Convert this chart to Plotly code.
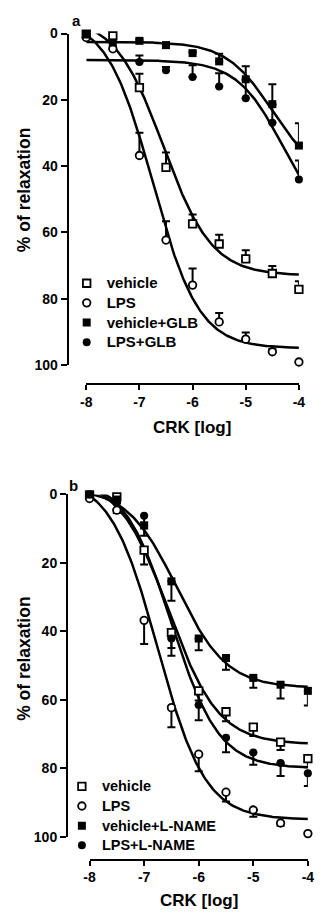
import numpy as np
import plotly.graph_objects as go

W, H = 329, 923
FONT = "Liberation Sans"

# ---------------- data ----------------
conc = [-8, -7.5, -7, -6.5, -6, -5.5, -5, -4.5, -4]
x_tickvals = [-8, -7, -6, -5, -4]
x_ticktext = ["-8", "-7", "-6", "-5", "-4"]
y_tickvals = [0, 20, 40, 60, 80, 100]
y_ticktext = ["0", "20", "40", "60", "80", "100"]

vehicle = [0.2, 0.7, 16.3, 40.4, 57.4, 63.5, 68.0, 72.4, 77.2]
vehicle_sem = [0, 0, 4.2, 4.5, 2.8, 2.8, 2.6, 2.3, 2.5]
lps = [1.2, 4.6, 36.8, 62.3, 75.9, 87.0, 92.2, 96.0, 99.1]
lps_sem = [0, 0.8, 6.9, 5.7, 5.0, 2.7, 2.0, 0.8, 0]

veh_glb = [0.3, 2.7, 2.2, 3.5, 5.9, 8.4, 13.8, 21.3, 33.8]
veh_glb_sem = [0, 0, 0.5, 0.8, 0.5, 2.3, 3.9, 6.0, 6.7]
lps_glb = [None, None, 8.6, 11.1, 13.1, 16.0, 19.5, 26.9, 44.0]
lps_glb_sem = [0, 0, 2.0, 1.0, 3.5, 4.0, 5.5, 5.4, 5.7]

veh_lname = [0.0, 1.5, 9.1, 25.4, 42.1, 47.8, 53.6, 55.6, 57.4]
veh_lname_sem = [0, 0, 3.0, 5.7, 3.4, 3.4, 2.9, 4.0, 4.3]
lps_lname = [0.0, 2.5, 6.2, 42.1, 61.5, 71.1, 75.4, 78.5, 81.5]
lps_lname_sem = [0, 0, 2.0, 5.0, 4.5, 4.2, 3.6, 3.8, 3.7]

# fitted sigmoid parameters: [top, bottom, logEC50, hill]
fit_vehicle = [-5, 73, -6.55, 0.95]
fit_lps = [-5, 95, -6.75, 1.0]
fit_veh_glb = [2.5, 44, -4.5, 1.0]
fit_lps_glb = [8, 60, -4.3, 1.0]
fit_veh_lname = [-2, 56.5, -6.4, 0.95]
fit_lps_lname = [-5, 80, -6.5, 1.0]

fit_x = np.linspace(-8, -4, 201)


def sigmoid(p, xs):
    top, bottom, ec, h = p
    return top + (bottom - top) / (1 + 10 ** ((ec - xs) * h))


def px_x(p):
    return p / W


def px_y(p):
    return 1 - p / H


fig = go.Figure()

LW = 2.5


def add_curve(p, xa, ya):
    fig.add_trace(go.Scatter(x=fit_x, y=sigmoid(p, fit_x), mode="lines",
                             line=dict(color="black", width=LW),
                             showlegend=False, hoverinfo="skip",
                             xaxis=xa, yaxis=ya))


def add_points(name, ys, sem, symbol, filled, xa, ya, legend, up):
    err = dict(type="data", symmetric=False, color="black", thickness=2, width=4)
    zeros = [0] * len(sem)
    if up:
        err["array"] = zeros
        err["arrayminus"] = sem
    else:
        err["array"] = sem
        err["arrayminus"] = zeros
    size = 8 if filled else 7.5
    fig.add_trace(go.Scatter(
        x=conc, y=ys, mode="markers", name=name,
        marker=dict(symbol=symbol, size=size,
                    color="black" if filled else "white",
                    line=dict(color="black", width=0 if filled else 1.8)),
        error_y=err, cliponaxis=False,
        xaxis=xa, yaxis=ya, legend=legend))


def lname(t, fs):
    return '<span style="font-size:%spx">%s</span>' % (fs, t)


# panel a
for p in [fit_vehicle, fit_lps, fit_veh_glb, fit_lps_glb]:
    add_curve(p, "x", "y")
add_points(lname("vehicle", 15), vehicle, vehicle_sem, "square", False, "x", "y", "legend", True)
add_points(lname("LPS", 15), lps, lps_sem, "circle", False, "x", "y", "legend", True)
add_points(lname("vehicle+GLB", 15), veh_glb, veh_glb_sem, "square", True, "x", "y", "legend", True)
add_points(lname("LPS+GLB", 15), lps_glb, lps_glb_sem, "circle", True, "x", "y", "legend", True)

# panel b
for p in [fit_vehicle, fit_lps, fit_veh_lname, fit_lps_lname]:
    add_curve(p, "x2", "y2")
add_points(lname("vehicle", 14.5), vehicle, vehicle_sem, "square", False, "x2", "y2", "legend2", False)
add_points(lname("LPS", 14.5), lps, lps_sem, "circle", False, "x2", "y2", "legend2", False)
add_points(lname("vehicle+L-NAME", 14.5), veh_lname, veh_lname_sem, "square", True, "x2", "y2", "legend2", False)
add_points(lname("LPS+L-NAME", 14.5), lps_lname, lps_lname_sem, "circle", True, "x2", "y2", "legend2", False)

tickfont = dict(family=FONT, size=14, color="black", weight="bold")


def xaxis(dom_px, pos_px):
    return dict(domain=[px_x(dom_px[0]), px_x(dom_px[1])], range=[-8, -4],
                anchor="free", position=px_y(pos_px),
                showline=True, linewidth=2, linecolor="black",
                ticks="outside", ticklen=5, tickwidth=2, tickcolor="black",
                tickvals=x_tickvals, ticktext=x_ticktext, tickfont=tickfont,
                showgrid=False, zeroline=False, fixedrange=True)


def yaxis(dom_px, pos_px):
    return dict(domain=[px_y(dom_px[1]), px_y(dom_px[0])], range=[100, 0],
                anchor="free", position=px_x(pos_px),
                showline=True, linewidth=2, linecolor="black",
                ticks="outside", ticklen=6, tickwidth=2, tickcolor="black",
                tickvals=y_tickvals, ticktext=y_ticktext, tickfont=tickfont,
                showgrid=False, zeroline=False, fixedrange=True)


def legend(xp, yp):
    return dict(x=px_x(xp), y=px_y(yp), xanchor="left", yanchor="top",
                font=dict(family=FONT, size=12.8, color="black", weight="bold"),
                bgcolor="rgba(0,0,0,0)", borderwidth=0, tracegroupgap=0)


ann_font = dict(family=FONT, size=17, color="black", weight="bold")
annotations = [
    dict(text="a", x=px_x(73), y=px_y(13), font=dict(family=FONT, size=15, color="black", weight="bold")),
    dict(text="b", x=px_x(70), y=px_y(486), font=dict(family=FONT, size=15, color="black", weight="bold")),
    dict(text="% of relaxation", x=px_x(18), y=px_y(185), textangle=-90, font=dict(family=FONT, size=17.5, color="black", weight="bold")),
    dict(text="% of relaxation", x=px_x(18), y=px_y(662), textangle=-90, font=dict(family=FONT, size=17.5, color="black", weight="bold")),
    dict(text="CRK [log]", x=px_x(193), y=px_y(427), font=ann_font),
    dict(text="CRK [log]", x=px_x(200), y=px_y(908), font=ann_font),
]
for a in annotations:
    a.update(xref="paper", yref="paper", showarrow=False, xanchor="center", yanchor="middle")

fig.update_layout(
    width=W, height=H,
    margin=dict(l=0, r=0, t=0, b=0, pad=0),
    paper_bgcolor="white", plot_bgcolor="white",
    font=dict(family=FONT, color="black"),
    xaxis=xaxis((83.3, 304), 382.7),
    yaxis=yaxis((26, 363.3), 64),
    xaxis2=xaxis((86.7, 313.3), 866.7),
    yaxis2=yaxis((495, 843.3), 63.3),
    legend=legend(63, 265),
    legend2=legend(58, 777),
    annotations=annotations,
    showlegend=True,
    hovermode=False,
)

fig.write_html("out.html",
               config={"displayModeBar": False, "staticPlot": True},
               post_script="document.body.style.margin='0';document.body.style.overflow='hidden';")
